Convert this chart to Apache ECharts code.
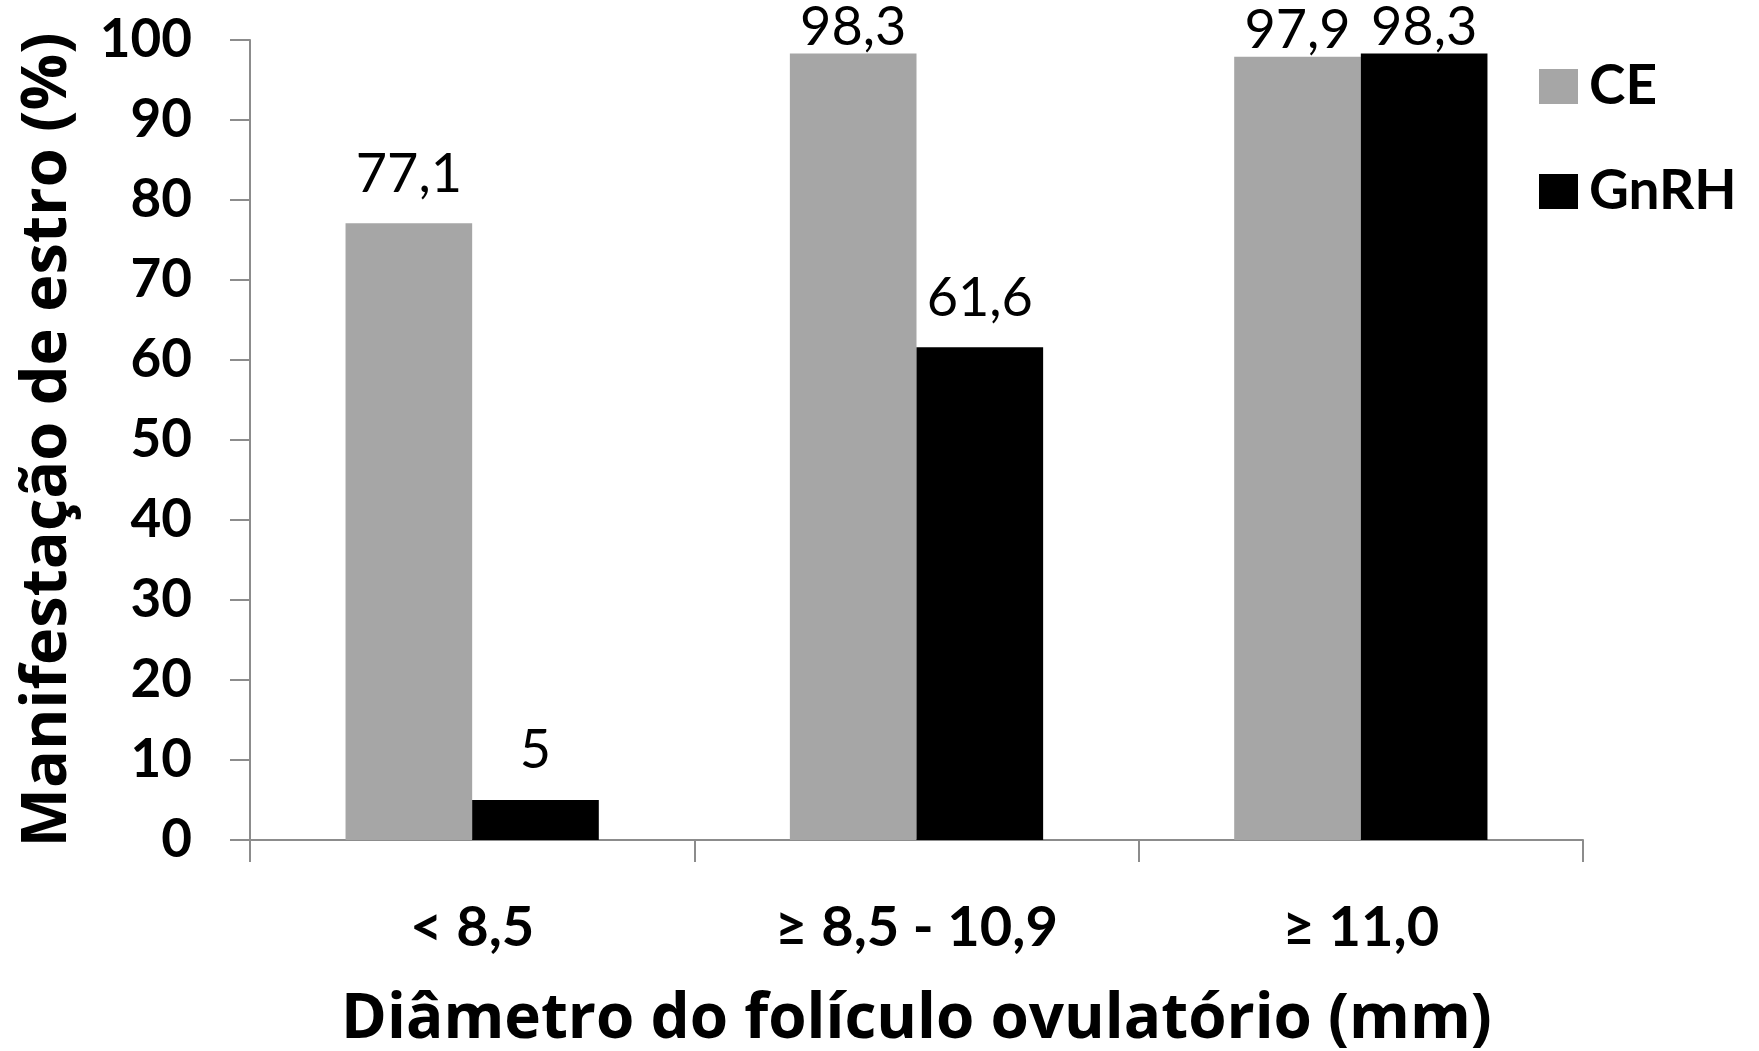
<!DOCTYPE html>
<html><head><meta charset="utf-8">
<script src="https://cdn.jsdelivr.net/npm/echarts@6/dist/echarts.min.js"></script>
<style>html,body{margin:0;padding:0;background:#fff}#c{width:1759px;height:1051px}</style>
</head><body><div id="c"></div>
<script>
const categories = ['< 8,5', '≥ 8,5 - 10,9', '≥ 11,0'];
const ceValues = [77.1, 98.3, 97.9];
const gnrhValues = [5, 61.6, 98.3];
const seriesNames = ['CE', 'GnRH'];
const yTicks = [0, 10, 20, 30, 40, 50, 60, 70, 80, 90, 100];

const FONT = 'Lato';
const TITLE_FONT = 'Open Sans';
function labelFmt(p) { return String(p.value).replace('.', ','); }
function toData(vals) {
  return vals.map(v => v > 95 ? { value: v, label: { distance: -1 } } : { value: v });
}
const chart = echarts.init(document.getElementById('c'));
chart.setOption({
  animation: false,
  textStyle: { fontFamily: FONT },
  grid: { left: 250, right: 176, top: 40, bottom: 211, containLabel: false, outerBoundsMode: 'none' },
  legend: {
    orient: 'vertical', left: 1534, top: 54,
    itemWidth: 39, itemHeight: 35, itemGap: 50,
    icon: 'rect',
    textStyle: { fontFamily: FONT, fontWeight: 'bold', fontSize: 55, color: '#000', padding: [0, 0, 0, 6] },
    data: seriesNames
  },
  xAxis: {
    type: 'category', data: categories,
    axisLine: { lineStyle: { color: '#8c8c8c', width: 2 } },
    axisTick: { show: true, length: 22, lineStyle: { color: '#8c8c8c', width: 2 } },
    axisLabel: { fontFamily: FONT, fontWeight: 'bold', fontSize: 56, color: '#000', margin: 60 },
    name: 'Diâmetro do folículo ovulatório (mm)', nameLocation: 'middle', nameGap: 149,
    nameTextStyle: { fontFamily: TITLE_FONT, fontWeight: 'bold', fontSize: 62, color: '#000' }
  },
  yAxis: {
    type: 'value', min: 0, max: 100, interval: 10,
    axisLine: { show: true, lineStyle: { color: '#8c8c8c', width: 2 } },
    axisTick: { show: true, length: 20, lineStyle: { color: '#8c8c8c', width: 2 } },
    splitLine: { show: false },
    axisLabel: { fontFamily: FONT, fontWeight: 'bold', fontSize: 53, color: '#000', margin: 58,
      formatter: v => yTicks.includes(v) ? String(v) : '' },
    name: 'Manifestação de estro (%)', nameLocation: 'middle', nameRotate: 90, nameGap: 170,
    nameTextStyle: { fontFamily: TITLE_FONT, fontWeight: 'bold', fontSize: 63, color: '#000' }
  },
  series: [
    { name: seriesNames[0], type: 'bar', data: toData(ceValues), barGap: '0%', barCategoryGap: '43%',
      itemStyle: { color: '#a6a6a6' },
      label: { show: true, position: 'top', distance: 22, formatter: labelFmt,
        fontFamily: FONT, fontSize: 54, color: '#000' } },
    { name: seriesNames[1], type: 'bar', data: toData(gnrhValues), barGap: '0%', barCategoryGap: '43%',
      itemStyle: { color: '#000000' },
      label: { show: true, position: 'top', distance: 22, formatter: labelFmt,
        fontFamily: FONT, fontSize: 54, color: '#000' } }
  ]
});
</script></body></html>
